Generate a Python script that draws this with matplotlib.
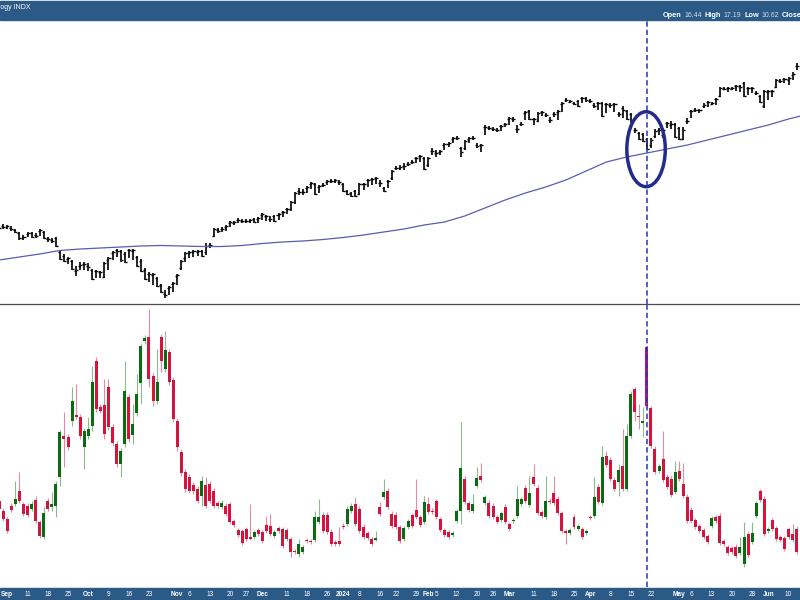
import matplotlib
matplotlib.use('Agg')
import matplotlib.pyplot as plt
import matplotlib.transforms as mtrans
from matplotlib.collections import LineCollection
from matplotlib.patches import Rectangle, Ellipse
import numpy as np
import pandas as pd

# trading days shown (NYSE calendar)
holidays = ['2023-09-04', '2023-11-23', '2023-12-25', '2024-01-01',
            '2024-01-15', '2024-02-19', '2024-03-29', '2024-05-27']
days = pd.bdate_range('2023-08-30', '2024-06-12')
days = days[~days.isin(pd.to_datetime(holidays))]

# upper panel: price bars (arbitrary units, no scale shown on the chart)
px_open = [373, 374, 373, 372, 370, 367, 362, 366, 367, 365, 369, 368, 361, 360, 362, 348, 344, 341, 339, 329,
           334, 336, 334, 330, 329, 328, 323, 340, 347, 350, 349, 346, 350, 349, 343, 339, 330, 326, 325, 322,
           315, 306, 312, 316, 324, 332, 342, 347, 348, 348, 349, 348, 355, 364, 370, 371, 373, 377, 377, 380,
           379, 379, 379, 381, 381, 385, 384, 381, 384, 385, 388, 391, 391, 398, 409, 408, 412, 416, 416, 413,
           415, 418, 419, 419, 418, 416, 409, 407, 409, 406, 416, 420, 421, 422, 417, 412, 419, 422, 432, 432,
           434, 436, 438, 442, 444, 442, 435, 449, 447, 448, 455, 456, 461, 462, 452, 452, 461, 462, 455, 455,
           473, 472, 471, 470, 474, 476, 481, 481, 471, 476, 487, 489, 481, 479, 488, 485, 480, 486, 488, 496,
           500, 498, 497, 499, 502, 502, 499, 495, 497, 497, 496, 495, 496, 486, 492, 489, 486, 470, 467, 466,
           461, 455, 464, 470, 465, 477, 475, 476, 472, 461, 479, 489, 490, 490, 494, 498, 496, 501, 504, 511,
           512, 511, 514, 514, 517, 512, 512, 507, 504, 494, 508, 509, 513, 519, 521, 520, 525, 534]
px_high = [375, 376, 375, 374, 371, 368, 365, 368, 368, 367, 371, 369, 363, 362, 363, 349, 346, 343, 340, 334,
           338, 338, 337, 331, 330, 329, 338, 343, 349, 351, 350, 348, 351, 351, 344, 341, 332, 328, 327, 323,
           316, 310, 314, 318, 326, 340, 348, 349, 350, 350, 350, 357, 357, 372, 372, 373, 375, 379, 379, 382,
           381, 381, 381, 382, 383, 387, 385, 384, 385, 387, 389, 392, 399, 408, 412, 411, 414, 418, 417, 415,
           417, 420, 421, 421, 420, 417, 410, 408, 410, 417, 417, 421, 422, 423, 420, 413, 420, 430, 434, 435,
           437, 438, 440, 443, 445, 443, 443, 452, 450, 450, 457, 458, 463, 464, 453, 460, 463, 464, 457, 456,
           475, 474, 473, 472, 475, 477, 483, 483, 475, 478, 489, 490, 482, 488, 489, 487, 483, 488, 490, 498,
           502, 500, 498, 500, 503, 503, 501, 497, 498, 498, 497, 497, 497, 488, 494, 490, 487, 472, 468, 467,
           462, 462, 471, 472, 472, 478, 479, 477, 473, 473, 482, 490, 492, 491, 497, 499, 498, 502, 513, 513,
           513, 513, 515, 515, 518, 513, 513, 509, 505, 510, 510, 510, 521, 521, 522, 523, 528, 537]
px_low = [370, 371, 371, 369, 367, 360, 360, 363, 362, 362, 364, 361, 358, 357, 353, 340, 338, 336, 330, 324,
          330, 330, 329, 320, 322, 322, 322, 330, 340, 343, 338, 337, 342, 340, 333, 328, 320, 318, 315, 313,
          307, 302, 305, 308, 315, 330, 338, 342, 343, 344, 343, 345, 352, 363, 367, 368, 369, 373, 375, 377,
          377, 377, 377, 377, 377, 380, 379, 378, 378, 380, 383, 386, 389, 396, 405, 405, 407, 411, 405, 407,
          413, 415, 417, 417, 415, 408, 405, 403, 403, 405, 410, 413, 415, 416, 413, 408, 412, 420, 430, 430,
          430, 434, 436, 437, 438, 430, 433, 445, 443, 445, 450, 453, 457, 460, 443, 450, 457, 460, 452, 448,
          465, 470, 469, 468, 469, 473, 475, 478, 467, 474, 480, 480, 475, 478, 484, 483, 477, 483, 480, 488,
          498, 497, 495, 493, 497, 498, 497, 492, 490, 483, 487, 492, 488, 483, 482, 480, 477, 467, 460, 458,
          450, 452, 462, 465, 462, 472, 471, 462, 460, 460, 476, 482, 488, 487, 492, 493, 495, 495, 503, 510,
          508, 510, 509, 508, 503, 505, 507, 505, 497, 492, 500, 503, 512, 517, 517, 515, 520, 530]
px_close = [372, 373, 374, 371, 368, 362, 363, 367, 363, 364, 370, 362, 361, 359, 354, 341, 339, 342, 331, 330,
            335, 336, 333, 321, 329, 328, 337, 342, 348, 349, 340, 338, 350, 350, 334, 329, 321, 326, 326, 314,
            308, 305, 313, 317, 325, 339, 347, 348, 349, 349, 344, 354, 355, 371, 369, 371, 374, 378, 378, 380,
            379, 379, 380, 378, 382, 386, 384, 381, 379, 386, 388, 391, 398, 407, 408, 408, 413, 417, 406, 414,
            415, 419, 419, 420, 418, 409, 406, 404, 404, 416, 416, 420, 421, 422, 417, 409, 419, 429, 432, 433,
            434, 436, 438, 442, 444, 431, 442, 449, 447, 449, 456, 457, 462, 462, 448, 459, 462, 462, 454, 455,
            473, 472, 471, 470, 474, 476, 482, 481, 471, 476, 488, 481, 481, 487, 488, 485, 480, 486, 489, 497,
            500, 499, 496, 494, 502, 500, 499, 494, 497, 484, 496, 495, 496, 486, 490, 481, 478, 470, 461, 459,
            451, 460, 469, 470, 470, 477, 476, 463, 461, 470, 479, 489, 490, 490, 495, 498, 497, 501, 512, 511,
            512, 512, 514, 513, 504, 512, 512, 507, 498, 509, 509, 509, 520, 519, 521, 522, 526, 534]

# 200-day average, read every 5th day
ma_step = 5
ma_val = [340, 343, 346, 349.5, 351, 352, 353, 354, 354.5, 354, 353.5, 353.5, 354.5, 356.5, 358, 359, 360.5,
          362.5, 365, 368, 371, 375, 378, 384, 392, 400, 407, 413, 420, 429, 438, 443, 447, 451, 455, 460,
          465, 470, 475, 481, 486]

# lower panel: volatility candles (arbitrary units)
vol_open = [99, 89, 81, 94, 96, 109, 96, 94, 91, 100, 78, 63, 99, 93, 94, 123, 164, 163, 179, 185,
            183, 153, 164, 174, 239, 193, 195, 213, 173, 156, 136, 156, 203, 165, 187, 217, 259, 263, 224, 199,
            263, 231, 248, 220, 179, 148, 128, 123, 115, 111, 104, 115, 116, 109, 97, 93, 94, 96, 79, 70,
            69, 71, 63.5, 63, 70, 68, 75, 74, 64, 72, 71, 70, 61, 49.5, 46, 48, 60, 59.5, 60, 78,
            85, 85, 68, 58, 59, 74.5, 76, 89, 96, 91, 73, 67, 61, 60.5, 93, 103, 109, 86, 85, 73,
            61, 73, 85, 90, 83, 78, 96, 89.5, 99, 81, 70, 68, 65, 79, 89, 121, 97, 89, 114, 124,
            97, 97, 94, 83, 80, 93, 76, 79, 84, 96, 112, 95, 123, 112, 88, 83, 99.5, 107, 101, 87,
            69, 67, 83, 71, 71, 67, 83, 84, 113, 97, 144, 140, 120, 118, 134, 111, 164, 211, 184.5, 177.5,
            253, 192, 151, 129, 141, 123, 121, 108, 129, 116, 103, 90, 80, 74, 70, 64, 74, 83, 84, 59,
            53, 52, 53, 47, 36, 66, 58, 84, 109, 101, 69, 80, 72, 63, 62, 71, 66, 71]
vol_high = [102, 92, 83, 97, 119, 128, 98, 97, 99, 104, 80, 93, 102, 108, 119, 170, 188, 166, 213, 216,
            186, 172, 183, 234, 243, 196, 221, 221, 176, 159, 152, 239, 206, 196, 226, 257, 265, 291, 227, 251,
            266, 269, 251, 223, 182, 151, 131, 126, 118, 114, 124, 123, 119, 112, 99, 100, 97, 98, 81, 72,
            71, 73, 96, 70, 72, 70, 84, 86, 70, 74, 73, 72, 63, 51, 61, 55, 62, 61, 89, 101,
            88, 88, 71, 60, 73, 77, 94, 97, 103, 94, 76, 69, 63, 69, 98, 121, 112, 89, 88, 75,
            74, 81, 87, 121, 85, 104, 103, 92, 101, 83, 72, 70, 69, 91, 178, 124, 99, 106, 133, 137,
            105, 100, 97, 85, 89, 96, 78, 82, 114, 103, 115, 124, 136, 115, 90, 124, 102, 124, 104, 89,
            71, 72, 86, 76, 73, 71, 85, 123, 116, 154, 149, 143, 123, 136, 171, 176, 209, 213, 196, 193,
            254, 194, 154, 136, 169, 126, 124, 139, 139, 137, 106, 93, 82, 76, 72, 66, 84, 85, 87, 61,
            55, 54, 56, 63, 78, 68, 78, 99, 111, 104, 73, 82, 74, 65, 64, 73, 76, 74]
vol_low = [88, 79, 67, 88, 94, 97, 84, 83, 89, 77, 62, 61, 89, 89, 83, 114, 133, 150, 174, 181,
           161, 131, 161, 169, 188, 187, 161, 170, 154, 133, 123, 153, 158, 156, 184, 196, 256, 213, 194, 196,
           228, 228, 215, 178, 149, 124, 108, 107, 106, 97, 94, 92, 97, 92, 92, 91, 84, 76, 73, 63,
           55, 59, 60, 61, 64, 57, 67, 64, 62, 67, 52, 59, 43, 46, 43, 46, 57, 56, 58, 76,
           67, 66, 54, 54, 54, 71, 74, 87, 74, 67, 61, 60, 54, 59, 84, 101, 91, 72, 71, 57,
           59, 71, 72, 81, 73, 76, 86, 86, 81, 68, 63, 61, 63, 77, 76, 96, 88, 87, 112, 118,
           95, 82, 81, 76, 78, 76, 69, 77, 82, 94, 97, 93, 114, 85, 82, 81, 96, 95, 85, 67,
           56, 65, 71, 69, 61, 65, 80, 82, 96, 95, 133, 119, 109, 104, 109, 109, 162, 179, 171, 163,
           192, 152, 126, 127, 118, 111, 103, 106, 119, 102, 77, 77, 71, 67, 61, 56, 72, 77, 55, 54,
           45, 46, 42, 45, 33, 43, 56, 82, 98, 64, 67, 69, 59, 58, 49, 61, 58, 46]
vol_close = [91, 81, 69, 90, 101, 99, 86, 85, 96, 79, 64, 87, 91, 96, 116, 168, 161, 153, 199, 183,
             164, 169, 171, 218, 191, 189, 166, 173, 157, 136, 149, 209, 161, 176, 206, 254, 262, 221, 199, 218,
             239, 250, 218, 181, 153, 127, 111, 109, 109, 99, 119, 94, 99, 94, 94, 97, 86, 78, 75, 65,
             57, 61, 61.5, 68, 66, 59, 69, 66, 68, 69, 54, 61, 48, 48, 56, 53, 59, 58, 83, 83,
             69, 68, 56, 56, 56, 73, 91, 94, 76, 69, 63, 62, 56, 62, 86, 108, 93, 74, 73, 59,
             72, 79, 74, 83, 75, 98, 88, 88, 83, 70, 65, 63, 67, 89, 132, 98, 90, 96, 122, 120,
             103, 84, 83, 78, 87, 78, 71, 80, 101, 101, 99, 107, 116, 87, 84, 99, 98, 97, 87, 69,
             67, 70, 73, 74, 63, 69, 82, 103, 98, 143, 135, 121, 111, 130, 111, 164, 206, 188, 183, 179,
             194, 154, 128, 134, 120, 113, 105, 128, 121, 104, 79, 79, 73, 69, 63, 58, 82, 79, 57, 56,
             47, 48, 44, 53, 63, 45, 67, 97, 100, 66, 71, 71, 61, 60, 51, 63, 60, 48]

# x axis labels
tick_dates = ['2023-09-01', '2023-09-11', '2023-09-18', '2023-09-25', '2023-10-02', '2023-10-09',
              '2023-10-16', '2023-10-23', '2023-11-01', '2023-11-06', '2023-11-13', '2023-11-20',
              '2023-11-27', '2023-12-01', '2023-12-11', '2023-12-18', '2023-12-26', '2024-01-02',
              '2024-01-08', '2024-01-16', '2024-01-22', '2024-01-29', '2024-02-01', '2024-02-05',
              '2024-02-12', '2024-02-20', '2024-02-26', '2024-03-01', '2024-03-11', '2024-03-18',
              '2024-03-25', '2024-04-01', '2024-04-08', '2024-04-15', '2024-04-22', '2024-05-01',
              '2024-05-06', '2024-05-13', '2024-05-20', '2024-05-28', '2024-06-03', '2024-06-10']
tick_labels = ['Sep', '11', '18', '25', 'Oct', '9', '16', '23', 'Nov', '6', '13', '20', '27', 'Dec',
               '11', '18', '26', '2024', '8', '16', '22', '29', 'Feb', '5', '12', '20', '26', 'Mar',
               '11', '18', '25', 'Apr', '8', '15', '22', 'May', '6', '13', '20', '28', 'Jun', '10']

marked_day = '2024-04-19'
header_left = 'Technology INDX'
header_right = [('Open', '16.44'), ('High', '17.19'), ('Low', '10.62'), ('Close', '')]

BLUE_BAR = '#2b5a87'
UP = '#0c6b12'
DOWN = '#d3143d'
UP_WICK = '#8db98f'
DOWN_WICK = '#e58aa0'

plt.rcParams['font.family'] = ['Liberation Sans', 'DejaVu Sans']

fig = plt.figure(figsize=(8, 6), dpi=100)
ax_top = fig.add_axes([0, 296 / 600, 1, 284 / 600])
ax_bot = fig.add_axes([0, 13 / 600, 1, 283 / 600])

x = np.arange(len(days))
xlim = (0.2, 197.83)

# price bars
segs, ticks = [], []
for i in x:
    segs.append([(i, px_low[i]), (i, px_high[i])])
    ticks.append([(i - 0.5, px_open[i]), (i, px_open[i])])
    ticks.append([(i, px_close[i]), (i + 0.5, px_close[i])])
ax_top.add_collection(LineCollection(segs, colors='black', linewidths=1.2))
ax_top.add_collection(LineCollection(ticks, colors='black', linewidths=1.0))
ax_top.plot(np.arange(len(ma_val)) * ma_step, ma_val, color='#5b5bb2', lw=0.9)

# candles
w = 0.74
for i in x:
    o, h, l, c = vol_open[i], vol_high[i], vol_low[i], vol_close[i]
    up = c >= o
    ax_bot.plot([i, i], [l, h], color=UP_WICK if up else DOWN_WICK, lw=0.8, zorder=2,
                solid_capstyle='butt')
    body = DOWN
    if days[i] == pd.Timestamp(marked_day):
        body = '#b3137e'
    ax_bot.add_patch(Rectangle((i - w / 2, min(o, c)), w, max(abs(c - o), 0.9),
                               facecolor=UP if up else body, edgecolor='none', zorder=3))

jm = days.get_loc(pd.Timestamp(marked_day))
for ax in (ax_top, ax_bot):
    ax.axvline(jm, color='#2430d6', lw=1.1, ls=(0, (3.5, 2)), zorder=5)
    ax.set_xlim(*xlim)
    ax.axis('off')
ax_top.set_ylim(296, 580)
ax_bot.set_ylim(13, 296)

ax_top.add_patch(Ellipse((jm - 0.2, 450.8), 9.5, 75, fill=False, ec='#232b8c', lw=2.5, zorder=6))

# header, separator and date bar
fig.add_artist(Rectangle((0, 580.5 / 600), 1, 18.5 / 600, transform=fig.transFigure,
                         color=BLUE_BAR, zorder=0))
fig.add_artist(Rectangle((0, 0), 1, 12 / 600, transform=fig.transFigure,
                         color=BLUE_BAR, zorder=0))
fig.add_artist(plt.Line2D([0, 1], [296 / 600, 296 / 600], transform=fig.transFigure,
                          color='#4d4d4d', lw=0.9))

fig.text(30 / 800, 1 - 7.5 / 600, header_left, ha='right', va='center', color='white', fontsize=5)

# the readout is laid out piece by piece, left to right
renderer = fig.canvas.get_renderer()
hx = 663
for name, val in header_right:
    t = fig.text(hx / 800, 1 - 15.5 / 600, name, ha='left', va='center', color='white',
                 fontsize=5.3, fontweight='bold')
    hx = t.get_window_extent(renderer).x1 + 2.5
    if val:
        t = fig.text(hx / 800, 1 - 15.5 / 600, val, ha='left', va='center', color='#d5dde8',
                     fontsize=5.0)
        hx = t.get_window_extent(renderer).x1 + 3

tr = mtrans.blended_transform_factory(ax_bot.transData, fig.transFigure)
for d, lab in zip(tick_dates, tick_labels):
    j = days.get_loc(pd.Timestamp(d))
    bold = not lab.isdigit() or lab == '2024'
    ax_bot.text(j, 6 / 600, lab, transform=tr, ha='center', va='center', color='white',
                fontsize=4.7, fontweight='bold' if bold else 'normal', clip_on=False)

fig.savefig('out.png', dpi=100)
